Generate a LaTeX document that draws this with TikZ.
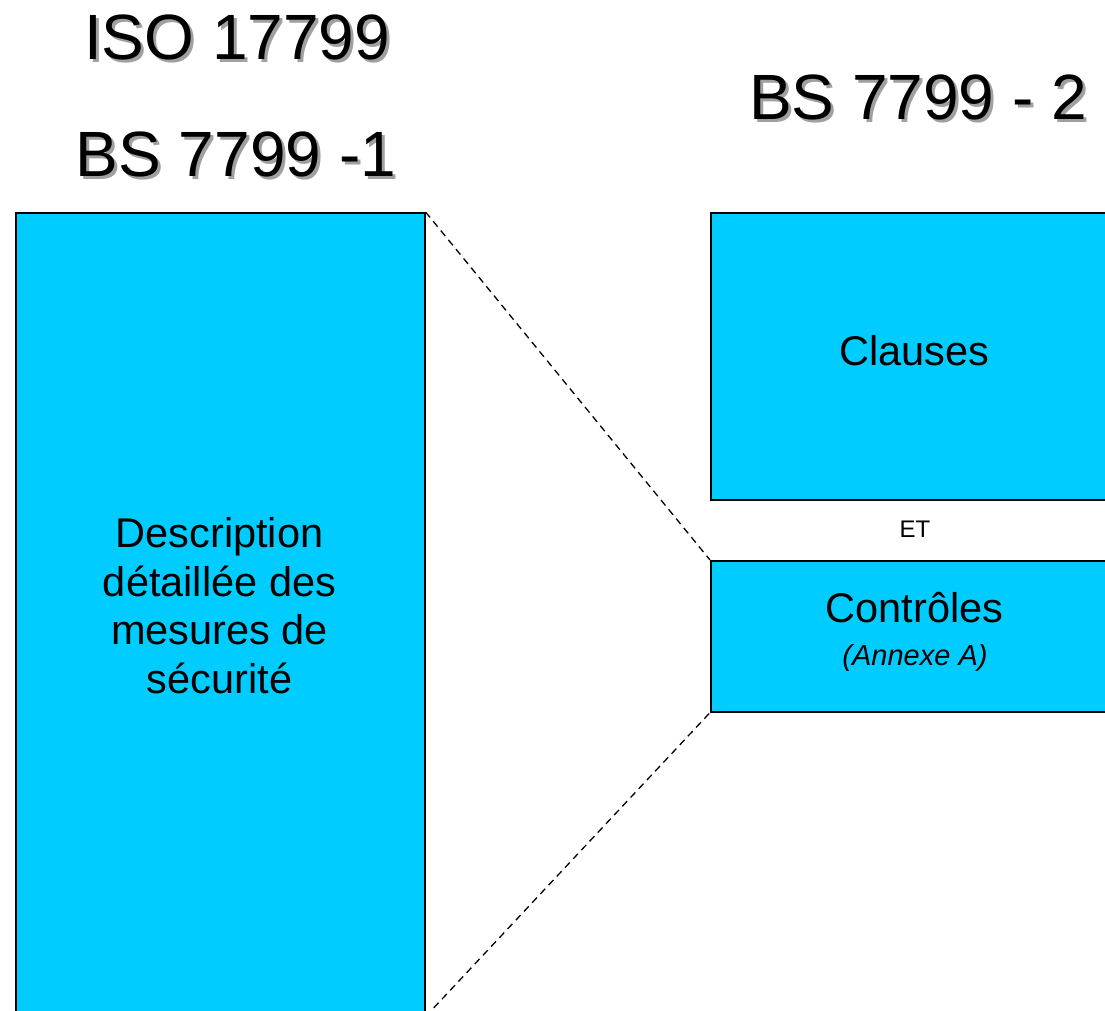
\documentclass[tikz,border=0pt]{standalone}
\usepackage{fontspec}
\setmainfont{Liberation Sans}
\definecolor{boxcyan}{HTML}{00CCFF}
\definecolor{shadowgray}{HTML}{A0A0A0}
\tikzset{
  block/.style={draw=black, line width=1.6pt, fill=boxcyan, rectangle,
    inner sep=0pt, anchor=north west},
  titletext/.style={anchor=base, inner sep=0pt, font=\fontsize{64}{70}\selectfont},
  titleshadow/.style={titletext, text=shadowgray},
  bodytext/.style={inner sep=0pt, align=center, font=\fontsize{41.5}{48.5}\selectfont},
  link/.style={draw=black, line width=1.3pt, dash pattern=on 7pt off 5pt}
}
\begin{document}
\begin{tikzpicture}[x=1pt, y=-1pt]
  \useasboundingbox (0,0) rectangle (1105,1011);
  \clip (0,0) rectangle (1105,1011);

  % titles with a soft grey drop shadow
  \node[titleshadow] (isoS) at (240,63) {ISO 17799};
  \node[titletext]   (iso)  at (237,60) {ISO 17799};
  \node[titleshadow] (bs1S) at (239,180) {BS 7799 -1};
  \node[titletext]   (bs1)  at (236,177) {BS 7799 -1};
  \node[titleshadow] (bs2S) at (921,123) {BS 7799 - 2};
  \node[titletext]   (bs2)  at (918,120) {BS 7799 - 2};

  % left: code of practice
  \node[block, minimum width=409pt, minimum height=803pt] (desc) at (15,212) {};
  \node[bodytext] (desctext) at (219.5,605.5)
    {Description\\détaillée des\\mesures de\\sécurité};

  % right: requirements
  \node[block, minimum width=408pt, minimum height=287pt] (clauses) at (710,212) {};
  \node[bodytext] (clausestext) at (914,350.5) {Clauses};

  \node[anchor=base, inner sep=0pt, font=\fontsize{24}{28}\selectfont] (et) at (915,537) {ET};

  \node[block, minimum width=408pt, minimum height=151pt] (ctrl) at (710,560) {};
  \node[anchor=base, inner sep=0pt, font=\fontsize{41.5}{48}\selectfont] (ctrltitle) at (914.5,622) {Contrôles};
  \node[anchor=base, inner sep=0pt, font=\fontsize{29}{34}\selectfont\itshape] (ctrlnote) at (915,665) {(Annexe A)};

  % zoom lines linking the controls to the detailed description
  \draw[link] (desc.north east) -- (ctrl.north west);
  \draw[link] (desc.south east) -- (ctrl.south west);
\end{tikzpicture}
\end{document}
